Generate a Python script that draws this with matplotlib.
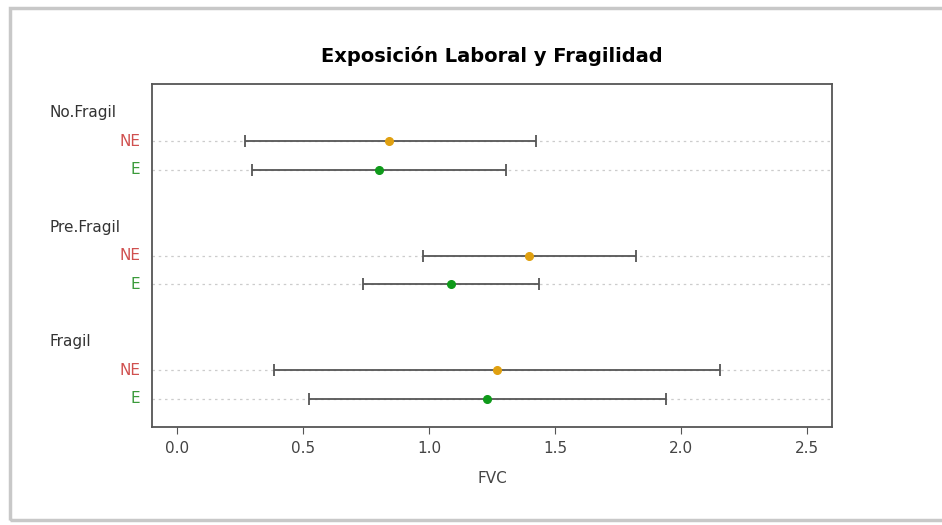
import matplotlib
matplotlib.use("Agg")
import matplotlib.pyplot as plt
from matplotlib.patches import Rectangle

plt.rcParams['font.family'] = ['DejaVu Sans']

groups = ["No.Fragil", "Pre.Fragil", "Fragil"]
exposures = ["NE", "E"]
# mean, lower, upper per group (NE, E)
means = {"No.Fragil": [0.84, 0.80], "Pre.Fragil": [1.395, 1.085], "Fragil": [1.27, 1.228]}
lowers = {"No.Fragil": [0.27, 0.296], "Pre.Fragil": [0.975, 0.738], "Fragil": [0.385, 0.524]}
uppers = {"No.Fragil": [1.422, 1.306], "Pre.Fragil": [1.822, 1.437], "Fragil": [2.154, 1.938]}
xticks = [0.0, 0.5, 1.0, 1.5, 2.0, 2.5]

label_colors = {"NE": "#d0504f", "E": "#3a9a3a"}
point_colors = {"NE": "#e0a010", "E": "#0f9a1a"}

fig = plt.figure(figsize=(9.42, 5.25), dpi=100)
# screenshot frame
fig.patches.append(Rectangle((10/942, 1-520/525), 1.0, (520-8)/525, transform=fig.transFigure,
                             fill=False, edgecolor="#c8c8c8", linewidth=2.5, zorder=0))

ax = fig.add_axes([152.3/942, 1-426.7/525, (831.7-152.3)/942, (426.7-84)/525])
ax.set_xlim(-0.099, 2.597)
ax.set_ylim(0.03, 12.0)

# positions: group label, NE, E from top
gpos = {"No.Fragil": (11, 10, 9), "Pre.Fragil": (7, 6, 5), "Fragil": (3, 2, 1)}

for g in groups:
    lp, pne, pe = gpos[g]
    ax.text(-0.1506, lp, g, transform=ax.get_yaxis_transform(), ha="left", va="center",
            fontsize=11, color="#333333")
    for i, (ex, p) in enumerate(zip(exposures, (pne, pe))):
        ax.axhline(p, color="#cccccc", linestyle=(0, (2, 3)), linewidth=0.9, zorder=1)
        ax.errorbar(means[g][i], p, xerr=[[means[g][i]-lowers[g][i]], [uppers[g][i]-means[g][i]]],
                    fmt="none", ecolor="#555555", elinewidth=1.3, capsize=4, capthick=1.3, zorder=2)
        ax.plot(means[g][i], p, "o", color=point_colors[ex], markersize=5.5, zorder=3)
        ax.text(-0.018, p, ex, transform=ax.get_yaxis_transform(), ha="right", va="center",
                fontsize=11, color=label_colors[ex])

ax.set_yticks([])
ax.set_xticks(xticks)
ax.set_xticklabels([f"{t:.1f}" for t in xticks], fontsize=11, color="#444444")
ax.tick_params(axis="x", length=5, color="#555555", pad=5)
for s in ax.spines.values():
    s.set_color("#555555")
    s.set_linewidth(1.3)
ax.set_xlabel("FVC", fontsize=11, color="#444444", labelpad=11)
ax.set_title("Exposición Laboral y Fragilidad", fontsize=14, fontweight="bold", pad=16)

fig.savefig("out.png", dpi=100)
